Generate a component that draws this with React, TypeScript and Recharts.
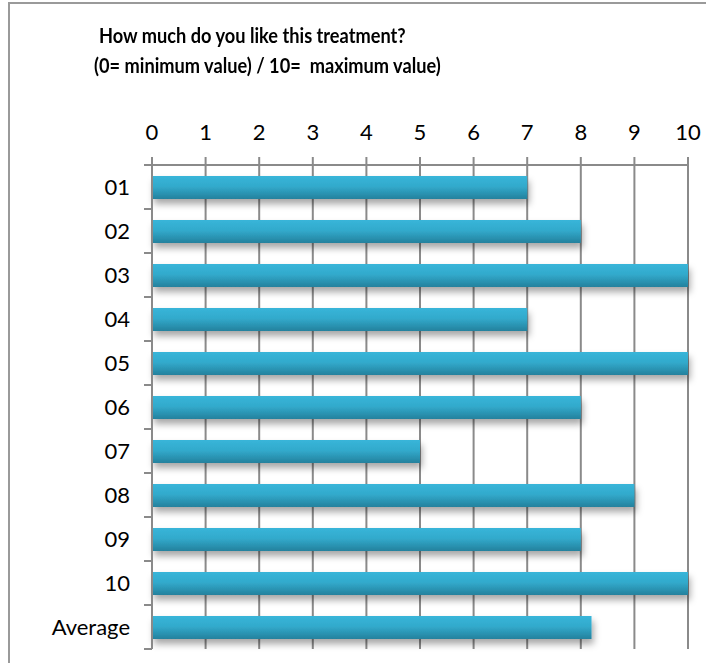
import { BarChart, Bar, XAxis, YAxis, CartesianGrid } from 'recharts'

const categories = ['01', '02', '03', '04', '05', '06', '07', '08', '09', '10', 'Average']
const scores = [7, 8, 10, 7, 10, 8, 5, 9, 8, 10, 8.2]
const xTicks = [0, 1, 2, 3, 4, 5, 6, 7, 8, 9, 10]

const data = categories.map((name, i) => ({ name, value: scores[i] }))

const FONT = 'Lato, "Open Sans", sans-serif'
const AXIS = '#8a8a8a'
const BAND = 44

function CategoryTick(props: any) {
  const { x, y, payload, index } = props
  return (
    <g>
      <text x={x - 22} y={y} dy={8} textAnchor="end" fontSize={22} fontFamily={FONT} fill="#000">
        {payload.value}
      </text>
      {index === 0 && <line x1={x - 8} x2={x} y1={y - BAND / 2} y2={y - BAND / 2} stroke={AXIS} strokeWidth={2} />}
      <line x1={x - 8} x2={x} y1={y + BAND / 2} y2={y + BAND / 2} stroke={AXIS} strokeWidth={2} />
    </g>
  )
}

export default function App() {
  // Calibri-like narrow title: Lato bold squeezed horizontally
  const titleStyle = {
    position: 'absolute' as const,
    fontFamily: FONT,
    fontWeight: 700,
    fontSize: 21,
    whiteSpace: 'pre' as const,
    lineHeight: '30px',
    color: '#000',
    transform: 'scaleX(0.867)',
    transformOrigin: '0 0',
  }
  return (
    <div style={{ position: 'fixed', left: 0, top: 0, width: 706, height: 663, background: '#fff', overflow: 'hidden' }}>
      {/* chart frame: only its left and top edges fall inside the picture */}
      <div style={{ position: 'absolute', left: 8, top: 2, width: 2, height: 661, background: '#9a9a9a' }} />
      <div style={{ position: 'absolute', left: 8, top: 2, width: 698, height: 2, background: '#9a9a9a' }} />
      <div style={{ ...titleStyle, left: 99, top: 20 }}>How much do you like this treatment?</div>
      <div style={{ ...titleStyle, left: 94, top: 50 }}>(0= minimum value) / 10=  maximum value)</div>
      <div style={{ position: 'absolute', left: 0, top: 0 }}>
        <BarChart
          width={706}
          height={663}
          data={data}
          layout="vertical"
          margin={{ top: 135, right: 18, bottom: 14, left: 0 }}
          barSize={23}
          accessibilityLayer={false}
        >
          <defs>
            <linearGradient id="barFill" x1="0" y1="0" x2="0" y2="1">
              <stop offset="0%" stopColor="#38b5d9" />
              <stop offset="45%" stopColor="#32aacc" />
              <stop offset="100%" stopColor="#24819d" />
            </linearGradient>
            <filter id="barShadow" x="-5%" y="-30%" width="115%" height="200%">
              <feDropShadow dx="2" dy="5" stdDeviation="3.5" floodColor="#000" floodOpacity="0.35" />
            </filter>
          </defs>
          <CartesianGrid horizontal={false} stroke={AXIS} strokeWidth={2} />
          <XAxis
            type="number"
            orientation="top"
            height={30}
            domain={[0, 10]}
            ticks={xTicks}
            interval={0}
            axisLine={{ stroke: AXIS, strokeWidth: 2 }}
            tickLine={{ stroke: AXIS, strokeWidth: 2 }}
            tickSize={8}
            tickMargin={17}
            tick={{ fill: '#000', fontSize: 22, fontFamily: FONT }}
          />
          <YAxis
            type="category"
            dataKey="name"
            width={152}
            axisLine={{ stroke: AXIS, strokeWidth: 2 }}
            tickLine={false}
            tickSize={0}
            tickMargin={0}
            tick={<CategoryTick />}
            interval={0}
          />
          <Bar dataKey="value" fill="url(#barFill)" filter="url(#barShadow)" isAnimationActive={false} />
        </BarChart>
      </div>
    </div>
  )
}
